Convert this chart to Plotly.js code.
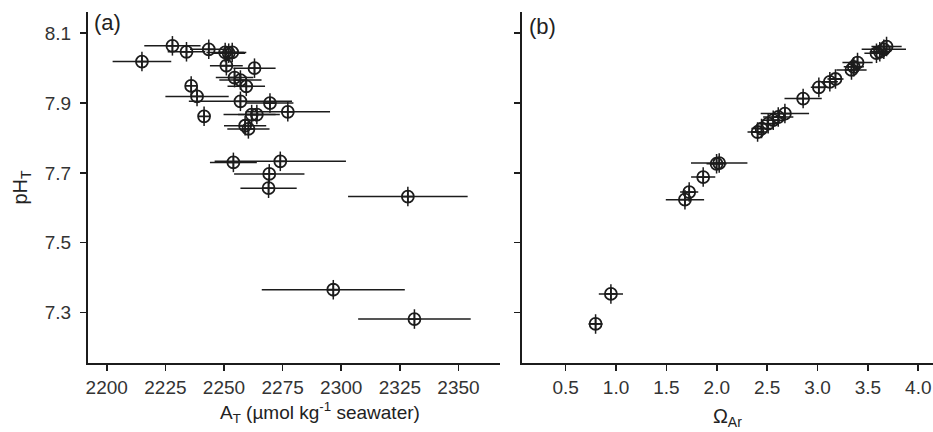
<!DOCTYPE html>
<html>
<head>
<meta charset="utf-8">
<script src="https://cdn.plot.ly/plotly-3.0.1.min.js"></script>
<style>html,body{margin:0;padding:0;background:#fff;}#chart{width:933px;height:432px;}</style>
</head>
<body>
<div id="chart"></div>
<script>
// Panel (a): total alkalinity vs pH
const alkA = [2228, 2234, 2243.5, 2250.5, 2252, 2253.5, 2215, 2251, 2263, 2254.5, 2257, 2259.5, 2236, 2238.5, 2257, 2269.6, 2277.2, 2261.8, 2264, 2241.5, 2259, 2260.4, 2254, 2274, 2269.3, 2269, 2328.4, 2296.6, 2331.2];
const phA  = [8.064, 8.047, 8.054, 8.045, 8.043, 8.045, 8.019, 8.007, 8.0, 7.973, 7.966, 7.948, 7.949, 7.919, 7.905, 7.9, 7.875, 7.867, 7.867, 7.862, 7.835, 7.826, 7.73, 7.733, 7.697, 7.656, 7.632, 7.365, 7.281];
const alkErr = [12, 8, 8, 8, 7, 6, 12.5, 7, 9, 8, 9, 8, 0, 13.5, 22, 10, 18, 12, 8, 0, 9, 9, 10, 28, 15, 12, 25.5, 30.5, 24];

// Panel (b): aragonite saturation vs pH
const omegaB = [0.797, 0.949, 1.684, 1.726, 1.865, 1.998, 2.024, 2.405, 2.444, 2.51, 2.56, 2.61, 2.676, 2.857, 3.013, 3.122, 3.178, 3.337, 3.36, 3.397, 3.585, 3.618, 3.658, 3.685];
const phB    = [7.267, 7.353, 7.623, 7.645, 7.688, 7.726, 7.728, 7.817, 7.827, 7.841, 7.851, 7.86, 7.87, 7.913, 7.945, 7.961, 7.969, 7.995, 8.004, 8.016, 8.043, 8.047, 8.054, 8.062];
const omegaErr = [0.07, 0.12, 0.19, 0.09, 0.12, 0.1, 0.28, 0.1, 0.1, 0.1, 0.12, 0.15, 0.24, 0.185, 0.08, 0.08, 0.08, 0.15, 0.1, 0.15, 0.12, 0.1, 0.22, 0.15];
const phErr = 0.028;

const yTicks = [7.3, 7.5, 7.7, 7.9, 8.1];
const yTickText = ['7.3', '7.5', '7.7', '7.9', '8.1'];
const xTicksA = [2200, 2225, 2250, 2275, 2300, 2325, 2350];
const xTicksB = [0.5, 1.0, 1.5, 2.0, 2.5, 3.0, 3.5, 4.0];
const xTickTextB = ['0.5', '1.0', '1.5', '2.0', '2.5', '3.0', '3.5', '4.0'];

const ink = '#1c1c1c';
const fam = 'Liberation Sans, Arial, sans-serif';
const marker = {symbol: 'circle-cross-open', size: 12, color: ink, line: {width: 1.8, color: ink}};

const traces = [
  {x: alkA, y: phA, type: 'scatter', mode: 'markers', marker: marker, xaxis: 'x', yaxis: 'y',
   error_x: {type: 'data', array: alkErr, visible: true, width: 0, thickness: 1.5, color: ink},
   error_y: {type: 'constant', value: phErr, visible: true, width: 0, thickness: 1.5, color: ink},
   hoverinfo: 'skip'},
  {x: omegaB, y: phB, type: 'scatter', mode: 'markers', marker: marker, xaxis: 'x2', yaxis: 'y2',
   error_x: {type: 'data', array: omegaErr, visible: true, width: 0, thickness: 1.5, color: ink},
   error_y: {type: 'constant', value: phErr, visible: true, width: 0, thickness: 1.5, color: ink},
   hoverinfo: 'skip'}
];

const tickFont = {family: fam, size: 19, color: '#333'};
const titleFont = {family: fam, size: 19, color: '#222'};
const axisCommon = {showgrid: false, zeroline: false, showline: true, linecolor: ink, linewidth: 2,
  ticks: 'outside', ticklen: 6, tickwidth: 1.6, tickcolor: ink, tickfont: tickFont, automargin: false};

const layout = {
  width: 933, height: 432,
  margin: {l: 88, r: 0, t: 12, b: 69},
  paper_bgcolor: '#fff', plot_bgcolor: '#fff',
  showlegend: false,
  xaxis: Object.assign({}, axisCommon, {domain: [0, 0.4876], range: [2192, 2367.7], tickmode: 'array', tickvals: xTicksA, anchor: 'y'}),
  yaxis: Object.assign({}, axisCommon, {domain: [0, 1], range: [7.155, 8.161], tickmode: 'array', tickvals: yTicks, ticktext: yTickText,
    ticklabelstandoff: 5, title: {text: 'pH<sub>T</sub>', font: {family: fam, size: 20, color: '#222'}, standoff: 12}, anchor: 'x'}),
  xaxis2: Object.assign({}, axisCommon, {domain: [0.5133, 1], range: [0.064, 4.146], tickmode: 'array', tickvals: xTicksB, ticktext: xTickTextB,
    title: {text: 'Ω<sub>Ar</sub>', font: {family: fam, size: 20, color: '#222'}, standoff: 12}, anchor: 'y2'}),
  yaxis2: Object.assign({}, axisCommon, {domain: [0, 1], range: [7.155, 8.161], tickmode: 'array', tickvals: yTicks, showticklabels: false, anchor: 'x2'}),
  annotations: [
    {text: 'A<sub>T</sub> (µmol kg<sup>-1</sup> seawater)', xref: 'paper', yref: 'paper', x: 0.274, y: -0.098, xanchor: 'center', yanchor: 'top', showarrow: false,
     font: titleFont},
    {text: '(a)', xref: 'paper', yref: 'paper', x: 0.005, y: 1, yshift: 4, xanchor: 'left', yanchor: 'top', showarrow: false,
     font: {family: fam, size: 22, color: '#222'}},
    {text: '(b)', xref: 'paper', yref: 'paper', x: 0.519, y: 1, yshift: 0, xanchor: 'left', yanchor: 'top', showarrow: false,
     font: {family: fam, size: 22, color: '#222'}}
  ]
};

Plotly.newPlot('chart', traces, layout, {displayModeBar: false, staticPlot: true});
</script>
</body>
</html>
